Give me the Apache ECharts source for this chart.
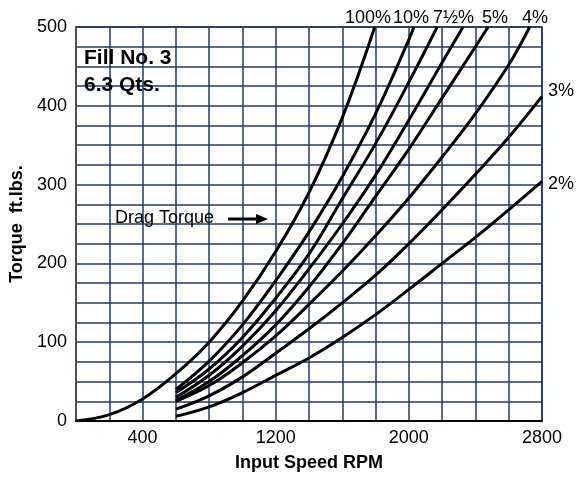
<!DOCTYPE html>
<html>
<head>
<meta charset="utf-8">
<title>Drag Torque - Fill No. 3</title>
<script src="https://cdn.jsdelivr.net/npm/echarts@6/dist/echarts.min.js"></script>
<style>
html, body { margin: 0; padding: 0; background: #fff; }
#chart { width: 584px; height: 477px; }
</style>
</head>
<body>
<div id="chart"></div>
<script>
// values: input speed (RPM) and torque (ft.lbs.) per curve
const dragRpm = [0, 200, 400, 600, 800, 1000, 1200, 1400, 1600, 1795]
const dragTorque = [0, 8, 28, 60, 100, 152, 215, 290, 385, 500]

const pct10Rpm = [600, 800, 1000, 1200, 1400, 1600, 1800, 2000, 2030]
const pct10Torque = [40, 76, 122, 178, 240, 310, 390, 484, 500]

const pct7halfRpm = [600, 800, 1000, 1200, 1400, 1600, 1800, 2000, 2170]
const pct7halfTorque = [36, 66, 106, 156, 212, 282, 352, 430, 500]

const pct6Rpm = [600, 800, 1000, 1200, 1400, 1600, 1800, 2000, 2200, 2325]
const pct6Torque = [30, 58, 95, 140, 193, 250, 312, 382, 455, 500]

const pct5Rpm = [600, 800, 1000, 1200, 1400, 1600, 1800, 2000, 2200, 2400, 2476]
const pct5Torque = [26, 50, 83, 122, 170, 225, 285, 345, 410, 475, 500]

const pct4Rpm = [600, 800, 1000, 1200, 1400, 1600, 1800, 2000, 2200, 2400, 2600, 2726]
const pct4Torque = [25, 45, 74, 108, 148, 190, 235, 283, 335, 390, 452, 500]

const pct3Rpm = [600, 800, 1000, 1200, 1400, 1600, 1800, 2000, 2200, 2400, 2600, 2800]
const pct3Torque = [15, 32, 56, 86, 117, 150, 185, 225, 268, 313, 360, 412]

const pct2Rpm = [600, 800, 1000, 1200, 1400, 1600, 1800, 2000, 2200, 2400, 2600, 2800]
const pct2Torque = [6, 18, 36, 58, 80, 106, 135, 167, 200, 233, 268, 304]

// tick labels shown on the axes
const xTickLabels = [400, 1200, 2000, 2800]
const yTickLabels = [0, 100, 200, 300, 400, 500]

const font = 'Liberation Sans, Arial, Helvetica, sans-serif'
const gridColor = '#1d3b6b'

function curve (name, rpm, torque) {
  return {
    type: 'line',
    name: name,
    data: rpm.map((r, i) => [r, torque[i]]),
    showSymbol: false,
    smooth: 0.4,
    silent: true,
    lineStyle: { color: '#000', width: 3 },
    z: 5
  }
}

function label (text, x, y, size, bold) {
  return {
    type: 'text',
    x: x,
    y: y,
    z: 10,
    style: {
      text: text,
      fill: '#000',
      font: (bold ? 'bold ' : '') + size + 'px ' + font,
      textVerticalAlign: 'middle'
    }
  }
}

const chart = echarts.init(document.getElementById('chart'))
chart.setOption({
  animation: false,
  backgroundColor: '#fff',
  grid: {
    left: 76,
    right: 42,
    top: 27,
    bottom: 45,
    show: true,
    borderColor: '#222',
    borderWidth: 1.5
  },
  xAxis: {
    type: 'value',
    min: 0,
    max: 2800,
    interval: 200,
    name: 'Input Speed RPM',
    nameLocation: 'middle',
    nameGap: 33,
    nameTextStyle: { fontFamily: font, fontSize: 18, fontWeight: 'bold', color: '#000' },
    axisLine: { show: true, lineStyle: { color: '#000', width: 2 } },
    axisTick: { show: false },
    axisLabel: {
      fontFamily: font,
      fontSize: 18,
      color: '#000',
      margin: 8,
      formatter: v => xTickLabels.indexOf(v) >= 0 ? String(v) : ''
    },
    splitLine: { show: true, lineStyle: { color: gridColor, width: 1.5 } }
  },
  yAxis: {
    type: 'value',
    min: 0,
    max: 500,
    interval: 25,
    name: 'Torque  ft.lbs.',
    nameLocation: 'middle',
    nameGap: 48,
    nameTextStyle: { fontFamily: font, fontSize: 18, fontWeight: 'bold', color: '#000' },
    axisLine: { show: true, lineStyle: { color: '#555', width: 1.5 } },
    axisTick: { show: false },
    axisLabel: {
      fontFamily: font,
      fontSize: 18,
      color: '#000',
      margin: 9,
      formatter: v => yTickLabels.indexOf(v) >= 0 ? String(v) : ''
    },
    splitLine: { show: true, lineStyle: { color: gridColor, width: 1.5 } }
  },
  series: [
    curve('100%', dragRpm, dragTorque),
    curve('10%', pct10Rpm, pct10Torque),
    curve('7½%', pct7halfRpm, pct7halfTorque),
    curve('6%', pct6Rpm, pct6Torque),
    curve('5%', pct5Rpm, pct5Torque),
    curve('4%', pct4Rpm, pct4Torque),
    curve('3%', pct3Rpm, pct3Torque),
    curve('2%', pct2Rpm, pct2Torque)
  ],
  graphic: [
    label('Fill No. 3', 84, 58, 21, true),
    label('6.3 Qts.', 84, 85, 21, true),
    label('Drag Torque', 115, 218, 18, false),
    {
      type: 'line',
      z: 10,
      shape: { x1: 228, y1: 219, x2: 258, y2: 219 },
      style: { stroke: '#000', lineWidth: 3 }
    },
    {
      type: 'polygon',
      z: 10,
      shape: { points: [[256, 214], [268, 219], [256, 224]] },
      style: { fill: '#000' }
    },
    // curve labels along the top and right edge
    label('100%', 345, 18, 18, false),
    label('10%', 393, 18, 18, false),
    label('7½%', 433, 18, 18, false),
    label('5%', 482, 18, 18, false),
    label('4%', 522, 18, 18, false),
    label('3%', 548, 91, 18, false),
    label('2%', 548, 184, 18, false)
  ]
})
</script>
</body>
</html>
